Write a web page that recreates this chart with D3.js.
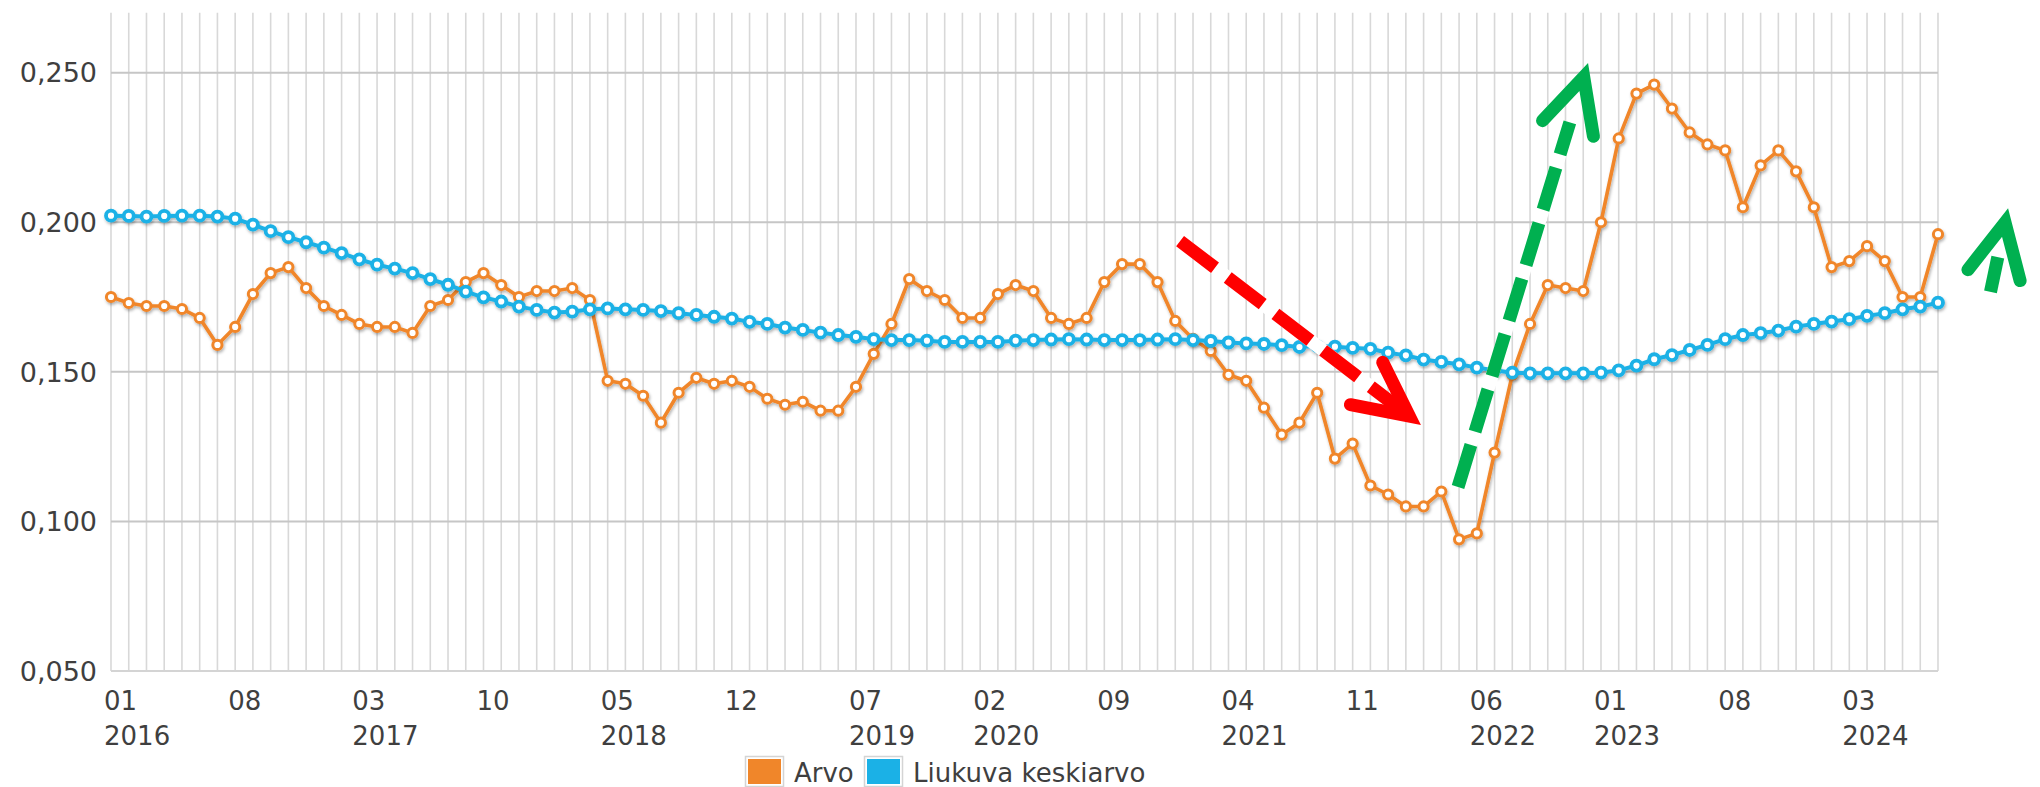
<!DOCTYPE html>
<html>
<head>
<meta charset="utf-8">
<script src="https://cdnjs.cloudflare.com/ajax/libs/d3/7.8.5/d3.min.js"></script>
<style>
  body { margin: 0; background: #fff; }
  svg text { font-family: "DejaVu Sans", Verdana, sans-serif; fill: #3f3f3f; }
</style>
</head>
<body>
<svg id="chart" width="2040" height="787"></svg>
<script>
// monthly categories 2016-01 .. 2024-08
const months = d3.timeMonth.range(new Date(2016, 0, 1), new Date(2024, 8, 1)).map(d3.timeFormat('%Y-%m'));

const tickCats = ['2016-01', '2016-08', '2017-03', '2017-10', '2018-05', '2018-12', '2019-07', '2020-02',
  '2020-09', '2021-04', '2021-11', '2022-06', '2023-01', '2023-08', '2024-03'];
const yTicks = [0.05, 0.10, 0.15, 0.20, 0.25];

const arvo = [
  0.175, 0.173, 0.172, 0.172, 0.171, 0.168, 0.159, 0.165, 0.176, 0.183, 0.185, 0.178,
  0.172, 0.169, 0.166, 0.165, 0.165, 0.163, 0.172, 0.174, 0.180, 0.183, 0.179, 0.175,
  0.177, 0.177, 0.178, 0.174, 0.147, 0.146, 0.142, 0.133, 0.143, 0.148, 0.146, 0.147,
  0.145, 0.141, 0.139, 0.140, 0.137, 0.137, 0.145, 0.156, 0.166, 0.181, 0.177, 0.174,
  0.168, 0.168, 0.176, 0.179, 0.177, 0.168, 0.166, 0.168, 0.180, 0.186, 0.186, 0.180,
  0.167, 0.161, 0.157, 0.149, 0.147, 0.138, 0.129, 0.133, 0.143, 0.121, 0.126, 0.112,
  0.109, 0.105, 0.105, 0.110, 0.094, 0.096, 0.123, 0.149, 0.166, 0.179, 0.178, 0.177,
  0.200, 0.228, 0.243, 0.246, 0.238, 0.230, 0.226, 0.224, 0.205, 0.219, 0.224, 0.217,
  0.205, 0.185, 0.187, 0.192, 0.187, 0.175, 0.175, 0.196
];

const liukuva = [
  0.2022, 0.2021, 0.2019, 0.2021, 0.2022, 0.2022, 0.2019, 0.2012, 0.1992, 0.1970, 0.1950, 0.1933,
  0.1915, 0.1897, 0.1876, 0.1858, 0.1845, 0.1830, 0.1810, 0.1791, 0.1768, 0.1749, 0.1735, 0.1718,
  0.1707, 0.1698, 0.1701, 0.1709, 0.1712, 0.1709, 0.1707, 0.1703, 0.1696, 0.1690, 0.1684, 0.1678,
  0.1667, 0.1660, 0.1648, 0.1640, 0.1631, 0.1623, 0.1617, 0.1609, 0.1606, 0.1606, 0.1604, 0.1600,
  0.1600, 0.1600, 0.1600, 0.1604, 0.1606, 0.1608, 0.1609, 0.1608, 0.1606, 0.1606, 0.1606, 0.1608,
  0.1609, 0.1606, 0.1603, 0.1598, 0.1595, 0.1593, 0.1589, 0.1583, 0.1586, 0.1584, 0.1580, 0.1577,
  0.1564, 0.1555, 0.1541, 0.1533, 0.1525, 0.1514, 0.1505, 0.1497, 0.1495, 0.1495, 0.1495, 0.1495,
  0.1497, 0.1505, 0.1521, 0.1542, 0.1556, 0.1573, 0.1590, 0.1609, 0.1623, 0.1629, 0.1638, 0.1651,
  0.1660, 0.1668, 0.1676, 0.1687, 0.1696, 0.1709, 0.1718, 0.1731
];

const seriesNames = ['Arvo', 'Liukuva keskiarvo'];
const seriesColors = ['#f0862a', '#1bb1e6'];

// hand drawn arrows on top of the chart, [month index, value] pairs
const arrows = [
  { from: [60.27, 0.1937], to: [73.85, 0.1322], color: '#ff0000', dash: '44,16', back: 26 },
  { from: [75.94, 0.1115], to: [83.27, 0.2532], color: '#00b050', dash: '44,14', back: 62 },
  { from: [105.96, 0.1767], to: [106.95, 0.2047], color: '#00b050', dash: '40,100', back: 50 }
];

const svg = d3.select('#chart');
const x = d3.scaleLinear().domain([0, months.length - 1]).range([111, 1938]);
const y = d3.scaleLinear().domain([0.05, 0.27]).range([671, 12.8]);

const defs = svg.append('defs');
defs.append('filter').attr('id', 'shadow').attr('x', '-5%').attr('y', '-20%').attr('width', '110%').attr('height', '140%')
  .append('feDropShadow').attr('dx', 1).attr('dy', 2).attr('stdDeviation', 1.6)
  .attr('flood-color', '#000').attr('flood-opacity', 0.3);

// grid
const grid = svg.append('g');
grid.selectAll('line.v').data(months).enter().append('line')
  .attr('class', 'v')
  .attr('x1', (d, i) => x(i)).attr('x2', (d, i) => x(i))
  .attr('y1', y.range()[1]).attr('y2', y(0.05))
  .attr('stroke', '#d8d8d8').attr('stroke-width', 1.6);
grid.selectAll('line.h').data(yTicks).enter().append('line')
  .attr('class', 'h')
  .attr('x1', x(0)).attr('x2', x(months.length - 1))
  .attr('y1', d => y(d)).attr('y2', d => y(d))
  .attr('stroke', d => d === 0.05 ? '#d4d4d4' : '#c6c6c6').attr('stroke-width', 2);

// y labels
const fmt = d => d3.format('.3f')(d).replace('.', ',');
svg.append('g').selectAll('text').data(yTicks).enter().append('text')
  .attr('x', 97).attr('y', d => y(d)).attr('dy', '0.36em')
  .attr('text-anchor', 'end').style('font-size', '27px')
  .text(fmt);

// x labels, year shown on the first tick of each year
const xl = svg.append('g').selectAll('g').data(tickCats).enter().append('g')
  .attr('transform', d => `translate(${x(months.indexOf(d)) - 7},0)`);
xl.append('text').attr('y', 710).style('font-size', '26px').text(d => d.slice(5));
xl.append('text').attr('y', 745).style('font-size', '26px')
  .text((d, i) => (i === 0 || tickCats[i - 1].slice(0, 4) !== d.slice(0, 4)) ? d.slice(0, 4) : '');

// series
const line = d3.line().x((d, i) => x(i)).y(d => y(d));
[arvo, liukuva].forEach((values, s) => {
  const g = svg.append('g').attr('filter', 'url(#shadow)');
  g.append('path').datum(values)
    .attr('d', line)
    .attr('fill', 'none')
    .attr('stroke', seriesColors[s])
    .attr('stroke-width', s === 0 ? 3.6 : 4);
  g.selectAll('circle').data(values).enter().append('circle')
    .attr('cx', (d, i) => x(i)).attr('cy', d => y(d))
    .attr('r', s === 0 ? 4.6 : 5)
    .attr('fill', '#fff')
    .attr('stroke', seriesColors[s])
    .attr('stroke-width', s === 0 ? 3 : 3.8);
});

// legend
const lg = svg.append('g').selectAll('g').data(seriesNames).enter().append('g')
  .attr('transform', (d, i) => `translate(${i === 0 ? 747 : 866},758)`);
lg.append('rect').attr('x', -1.5).attr('y', -1.5).attr('width', 38).attr('height', 30)
  .attr('fill', '#fff').attr('stroke', '#d4d4d4').attr('stroke-width', 1.5);
lg.append('rect').attr('x', 1).attr('y', 1).attr('width', 33).attr('height', 25)
  .attr('fill', (d, i) => seriesColors[i]);
lg.append('text').attr('x', 47).attr('y', 24).style('font-size', '26px').text(d => d);

// arrows
const ag = svg.append('g');
arrows.forEach(a => {
  const x1 = x(a.from[0]), y1 = y(a.from[1]);
  const tx = x(a.to[0]), ty = y(a.to[1]);
  const ang = Math.atan2(ty - y1, tx - x1);
  const w = 13, spread = 0.46, arm = 60;
  // the sharp miter point sits in front of the path vertex
  const vx = tx - Math.cos(ang) * (w / 2) / Math.sin(spread);
  const vy = ty - Math.sin(ang) * (w / 2) / Math.sin(spread);
  const ex = tx - Math.cos(ang) * a.back, ey = ty - Math.sin(ang) * a.back;

  ag.append('line').attr('x1', x1).attr('y1', y1).attr('x2', ex).attr('y2', ey)
    .attr('stroke', '#fff').attr('stroke-width', w);
  ag.append('line').attr('x1', x1).attr('y1', y1).attr('x2', ex).attr('y2', ey)
    .attr('stroke', a.color).attr('stroke-width', w).attr('stroke-dasharray', a.dash);

  const head = [
    [vx - arm * Math.cos(ang - spread), vy - arm * Math.sin(ang - spread)],
    [vx, vy],
    [vx - arm * Math.cos(ang + spread), vy - arm * Math.sin(ang + spread)]
  ];
  ag.append('path').attr('d', d3.line()(head))
    .attr('fill', 'none').attr('stroke', a.color).attr('stroke-width', w)
    .attr('stroke-linecap', 'round').attr('stroke-linejoin', 'miter').attr('stroke-miterlimit', 10);
});
</script>
</body>
</html>
